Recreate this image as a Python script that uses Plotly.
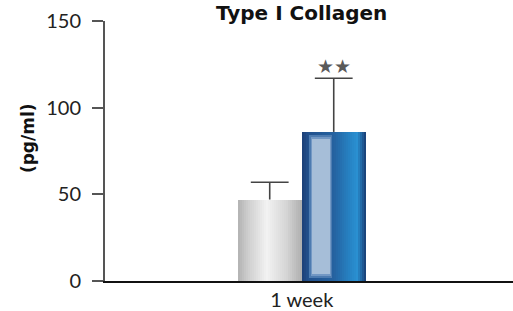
import plotly.graph_objects as go

categories = ["1 week"]
control_mean = [47]
control_err = [10]
treated_mean = [86]
treated_err = [31]
y_ticks = [0, 50, 100, 150]
star_label = "★★"

W = 0.1627
N = 32
xpos = list(range(len(categories)))

def hex2rgb(h):
    h = h.lstrip('#')
    return tuple(int(h[i:i+2], 16) for i in (0, 2, 4))

def grad(stops, t):
    for (p0, c0), (p1, c1) in zip(stops, stops[1:]):
        if p0 <= t <= p1:
            f = (t - p0) / (p1 - p0) if p1 > p0 else 0
            a, b = hex2rgb(c0), hex2rgb(c1)
            return 'rgb(%d,%d,%d)' % tuple(round(a[k] + (b[k] - a[k]) * f) for k in range(3))
    return stops[-1][1]

gray_stops = [(0, '#b2b2b2'), (0.15, '#cdcdcd'), (0.45, '#f2f2f2'), (0.75, '#d6d6d6'), (1, '#aeaeae')]
blue_stops = [(0, '#1c3f76'), (0.1, '#22518d'), (0.5, '#2562a0'), (0.75, '#2683c4'), (0.86, '#2a90d1'), (0.95, '#1f5a95'), (1, '#193c70')]

fig = go.Figure()

def add_grad_bar(yvals, left, stops):
    for i in range(N):
        t = (i + 0.5) / N
        fig.add_trace(go.Bar(
            x=xpos, y=yvals, offset=left + i * W / N, width=W / N * 1.15,
            marker=dict(color=grad(stops, t), line=dict(width=0)),
            showlegend=False, hoverinfo='skip'))

add_grad_bar(control_mean, -W, gray_stops)
add_grad_bar(treated_mean, 0, blue_stops)

# soft highlight strip on treated bar (layered for a blurred edge)
for inset, col in [(0.0, '#4d7bb0'), (0.02, '#7398c4'), (0.04, '#a6bed8')]:
    fig.add_trace(go.Bar(x=xpos, y=[v - 4 - 2 * inset / 0.02 for v in treated_mean],
                         base=[2 + inset / 0.02] * len(xpos),
                         offset=(0.12 + inset) * W, width=(0.36 - 2 * inset) * W,
                         marker=dict(color=col, line=dict(width=0)),
                         showlegend=False, hoverinfo='skip'))

# error bars (upper only): stem + cap
for vals, errs, shift in [(control_mean, control_err, -W / 2), (treated_mean, treated_err, W / 2)]:
    for x0, v, e in zip(xpos, vals, errs):
        fig.add_trace(go.Scatter(x=[x0 + shift, x0 + shift], y=[v, v + e], mode='lines',
                                 line=dict(color='#444444', width=1.6),
                                 showlegend=False, hoverinfo='skip'))
        fig.add_trace(go.Scatter(x=[x0 + shift], y=[v + e], mode='markers',
                                 marker=dict(symbol='line-ew', size=27,
                                             line=dict(color='#444444', width=1.6)),
                                 showlegend=False, hoverinfo='skip'))

for x0, v, e in zip(xpos, treated_mean, treated_err):
    fig.add_annotation(x=x0 + W / 2, y=v + e + 7, text=star_label, showarrow=False,
                       font=dict(size=19, color='#5a5a5a', family='DejaVu Sans'),
                       yanchor='middle')

fig.add_annotation(xref='paper', yref='paper', x=(301.7 - 105) / 408, y=1 + 22 / 262,
                   text='<b>Type I Collagen</b>', showarrow=False, yanchor='top',
                   font=dict(size=20, color='#111111', family='DejaVu Sans'))

fig.add_annotation(xref='paper', yref='paper', x=(28 - 105) / 408, y=(283 - 139) / 262,
                   text='<b>(pg/ml)</b>', showarrow=False, textangle=-90,
                   xanchor='center', yanchor='middle',
                   font=dict(size=17, color='#111111', family='DejaVu Sans'))

fig.update_layout(
    width=513, height=311,
    margin=dict(l=105, r=0, t=21, b=28),
    paper_bgcolor='white', plot_bgcolor='white',
    barmode='overlay', bargap=0,
    font=dict(family='Lato', size=20, color='#222222'),
    xaxis=dict(range=[-0.5, 0.537], tickvals=xpos, ticktext=categories,
               showline=True, linecolor='#111111', linewidth=2,
               ticks='', showgrid=False, zeroline=False, fixedrange=True,
               tickfont=dict(size=20)),
    yaxis=dict(range=[0, 150], tickvals=y_ticks, showline=True, linecolor='#555555',
               linewidth=2, ticks='outside', ticklen=11, tickwidth=2, tickcolor='#555555',
               showgrid=False, zeroline=False, ticklabelstandoff=7, fixedrange=True,
               tickfont=dict(size=20)),
)

fig.write_html("out.html", config={'displayModeBar': False},
               post_script="document.body.style.margin='0';document.body.style.padding='0';")
